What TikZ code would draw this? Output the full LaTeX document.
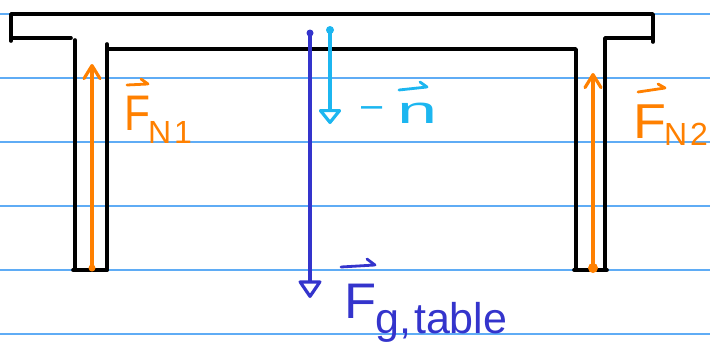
\documentclass[tikz,border=0pt]{standalone}
\usepackage{fontspec}
\setmainfont{Liberation Sans}
\usetikzlibrary{arrows.meta}
\definecolor{ruleblue}{RGB}{95,172,245}
\definecolor{forange}{RGB}{255,128,0}
\definecolor{fdblue}{RGB}{52,52,204}
\definecolor{fcyan}{RGB}{28,182,240}
\begin{document}
\begin{tikzpicture}[x=1pt,y=-1pt,
  ruleline/.style={ruleblue,line width=1.4pt},
  tableline/.style={black,line width=3.6pt,line cap=round,line join=round},
  normalarrow/.style={forange,line width=3.2pt,line cap=round,-{Straight Barb[length=13pt,width=16pt,line cap=round,line join=round]}},
  weightarrow/.style={fdblue,line width=3.2pt,-{Triangle[open,length=19pt,width=25pt,line join=round]}},
  narrow/.style={fcyan,line width=3.2pt,-{Triangle[open,length=16pt,width=25pt,line join=round]}},
  vecmark/.style={line width=2.8pt,line cap=round,line join=round},
  lab/.style={inner sep=0pt,anchor=base west}]
\useasboundingbox (0,0) rectangle (710,343);
% ruled paper
\foreach \yy in {14,78,142,206,270,334} \draw[ruleline] (0,\yy) -- (710,\yy);
% table outline
\draw[tableline] (11,41) -- (11,14) -- (653,14) -- (653,42);
\draw[tableline] (11,38) -- (71,38);
\draw[tableline] (75,40) -- (75,270);
\draw[tableline] (73,270) -- (107,270);
\draw[tableline] (107,44) -- (107,270);
\draw[tableline] (107,49) -- (576,49) -- (576,270);
\draw[tableline] (574,270) -- (607,270);
\draw[tableline] (605,270) -- (605,38) -- (652,38);
% arrow end points
\coordinate (n1tail) at (92,268);
\coordinate (n1head) at (92,64);
\coordinate (n2tail) at (593,268);
\coordinate (n2head) at (593,73);
\coordinate (fgtail) at (310,33);
\coordinate (fghead) at (310,298);
\coordinate (ntail) at (330,30);
\coordinate (nhead) at (330,124);
% force arrows
\draw[normalarrow] (n1tail) -- (n1head);
\fill[forange] (n1tail) circle (3.5);
\draw[normalarrow] (n2tail) -- (n2head);
\fill[forange] (n2tail) circle (5);
\draw[weightarrow] (fgtail) -- (fghead);
\fill[fdblue] (fgtail) circle (3.5);
\draw[narrow] (ntail) -- (nhead);
\fill[fcyan] (ntail) circle (4);
% labels
\node[lab,text=forange,font=\fontsize{50}{50}\selectfont] (fn1) at (124,130)
  {\scalebox{0.85}[1]{F}\kern-2pt\raisebox{-13pt}{\fontsize{32}{32}\selectfont N\kern3pt1}};
\draw[vecmark,forange] (127,85) -- (148,84) (141,79) -- (148,84);
\node[lab,text=forange,font=\fontsize{49}{49}\selectfont] (fn2) at (633,138)
  {\scalebox{1.1}[1]{F}\kern-2pt\raisebox{-7pt}{\fontsize{32}{32}\selectfont N\kern3pt2}};
\draw[vecmark,forange] (638,92) -- (665,88) (658,84) -- (665,88);
\node[lab,text=fdblue,font=\fontsize{50}{50}\selectfont] (fg) at (344,318)
  {\scalebox{1.05}[1]{F}\kern-1pt\raisebox{-15pt}{\fontsize{43}{43}\selectfont g,\kern3pt table}};
\draw[vecmark,fdblue] (341,267) -- (375,265) (367,259) -- (375,265);
\node[lab,text=fcyan,font=\fontsize{38}{38}\selectfont] (nlab) at (361,123)
  {\raisebox{6pt}{–}\kern15pt\scalebox{1.9}[1]{n}};
\draw[vecmark,fcyan] (399,90) -- (427,87) (420,82) -- (427,87);
\end{tikzpicture}
\end{document}
